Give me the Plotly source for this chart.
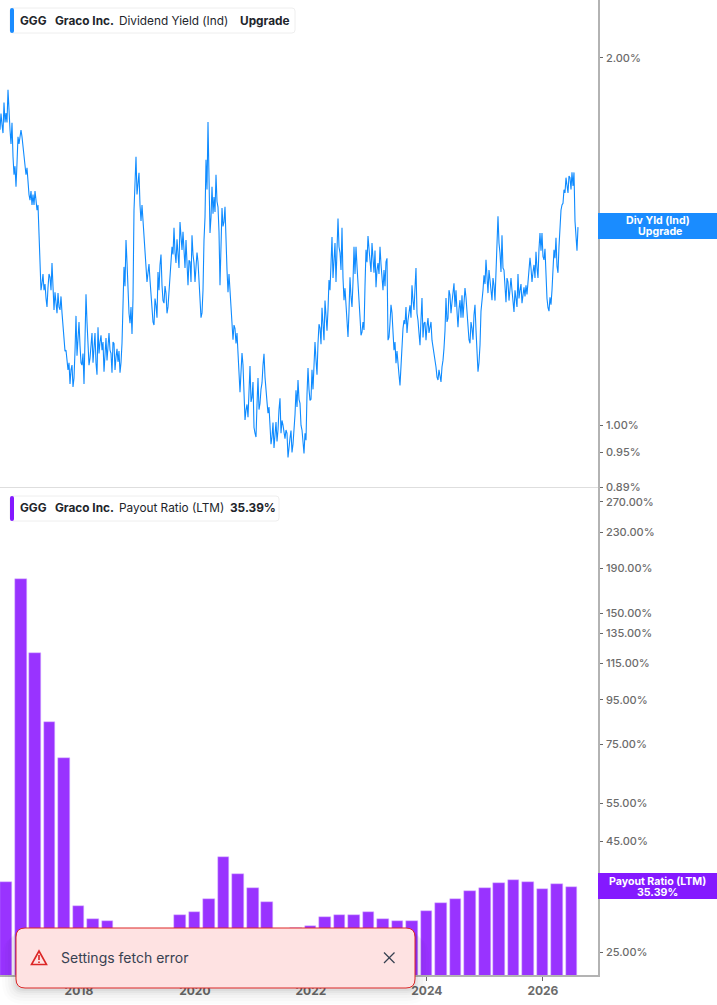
import pandas as pd
import plotly.graph_objects as go

W, H = 717, 1005

# Dividend yield (%); two interleaved passes over the dates
yield_start = "2016-08-22"
yield_end = "2026-08-10"
yield_pass_a = [
1.746,1.763,1.838,1.802,1.883,1.746,1.769,1.604,1.568,1.723,1.730,1.723,1.665,1.604,1.568,1.529,1.515,1.515,1.529,1.515,
1.333,1.307,1.290,1.271,1.297,1.322,1.358,1.243,1.266,1.283,1.243,1.236,1.179,1.152,1.110,1.081,1.120,1.093,1.229,1.181,
1.163,1.120,1.081,1.280,1.174,1.135,1.190,1.152,1.124,1.203,1.170,1.152,1.106,1.179,1.163,1.152,1.104,1.167,1.137,1.127,
1.104,1.167,1.348,1.418,1.273,1.212,1.188,1.501,1.659,1.583,1.515,1.515,1.437,1.353,1.333,1.315,1.243,1.208,1.254,1.335,
1.353,1.302,1.259,1.283,1.250,1.322,1.400,1.451,1.358,1.392,1.467,1.392,1.371,1.418,1.302,1.361,1.431,1.358,1.361,1.361,
1.273,1.236,1.418,1.650,1.772,1.437,1.568,1.538,1.604,1.509,1.302,1.506,1.467,1.392,1.285,1.290,1.214,1.208,1.167,1.146,
1.064,1.146,1.068,1.029,1.015,1.118,1.054,0.996,0.978,1.093,1.042,1.083,1.144,1.062,1.023,1.000,0.978,0.958,1.006,0.991,
1.052,1.009,0.985,0.991,0.941,0.976,0.950,0.985,1.068,1.089,1.042,0.991,0.948,0.972,1.114,1.048,1.110,1.137,1.131,1.167,
1.201,1.248,1.174,1.219,1.243,1.290,1.426,1.366,1.310,1.477,1.384,1.451,1.266,1.250,1.181,1.322,1.250,1.400,1.400,1.315,
1.226,1.192,1.197,1.392,1.429,1.366,1.410,1.333,1.297,1.358,1.400,1.327,1.340,1.361,1.174,1.212,1.236,1.152,1.124,1.131,
1.078,1.174,1.219,1.250,1.219,1.254,1.302,1.243,1.345,1.219,1.163,1.271,1.212,1.174,1.224,1.208,1.174,1.152,1.116,1.089,
1.099,1.116,1.156,1.271,1.224,1.278,1.261,1.307,1.290,1.203,1.266,1.278,1.254,1.273,1.203,1.167,1.201,1.231,1.197,1.106,
1.163,1.278,1.327,1.366,1.283,1.315,1.266,1.302,1.335,1.483,1.384,1.431,1.340,1.261,1.310,1.302,1.290,1.238,1.273,1.330,
1.290,1.259,1.297,1.302,1.310,1.371,1.310,1.353,1.387,1.320,1.437,1.437,1.366,1.315,1.248,1.273,1.290,1.392,1.424,1.333,
1.473,1.515,1.559,1.595,1.550,1.595,1.611,1.611,1.413,1.453,
]
yield_pass_b = [
1.800,1.735,1.770,1.770,1.790,1.700,1.660,1.630,1.640,1.700,1.745,1.690,1.620,1.625,1.545,1.555,1.545,1.555,1.500,1.445,
1.290,1.330,1.305,1.250,1.330,1.290,1.300,1.285,1.235,1.250,1.275,1.210,1.150,1.125,1.125,1.110,1.075,1.150,1.140,1.215,
1.125,1.145,1.215,1.215,1.120,1.175,1.125,1.190,1.100,1.145,1.185,1.170,1.140,1.130,1.190,1.145,1.170,1.110,1.155,1.150,
1.125,1.230,1.300,1.360,1.235,1.250,1.270,1.560,1.545,1.610,1.470,1.475,1.375,1.310,1.355,1.280,1.215,1.270,1.225,1.290,
1.380,1.265,1.300,1.235,1.290,1.375,1.380,1.385,1.420,1.345,1.410,1.440,1.345,1.350,1.365,1.310,1.380,1.310,1.385,1.310,
1.225,1.290,1.480,1.560,1.620,1.480,1.490,1.495,1.525,1.440,1.400,1.455,1.510,1.340,1.330,1.245,1.175,1.200,1.190,1.110,
1.105,1.120,1.010,1.040,1.070,1.045,1.085,0.985,1.040,1.030,1.070,1.120,1.095,1.045,1.035,0.965,1.005,0.985,0.970,1.030,
0.985,1.000,0.975,0.985,0.965,0.990,0.965,1.020,1.035,1.050,1.000,0.960,0.985,1.060,1.070,1.050,1.070,1.170,1.100,1.210,
1.165,1.200,1.265,1.195,1.315,1.350,1.320,1.410,1.400,1.400,1.340,1.320,1.295,1.205,1.240,1.275,1.310,1.330,1.350,1.270,
1.185,1.215,1.300,1.360,1.395,1.335,1.350,1.390,1.340,1.330,1.355,1.290,1.300,1.370,1.180,1.255,1.175,1.170,1.150,1.100,
1.130,1.200,1.210,1.190,1.245,1.225,1.265,1.295,1.235,1.190,1.220,1.180,1.215,1.205,1.190,1.215,1.160,1.135,1.095,1.110,
1.085,1.130,1.195,1.215,1.290,1.235,1.285,1.250,1.240,1.245,1.225,1.225,1.295,1.235,1.175,1.215,1.175,1.255,1.150,1.125,
1.240,1.290,1.305,1.330,1.340,1.280,1.320,1.265,1.430,1.410,1.335,1.345,1.300,1.320,1.265,1.320,1.270,1.290,1.250,1.270,
1.305,1.280,1.275,1.280,1.330,1.345,1.335,1.320,1.345,1.395,1.390,1.375,1.395,1.270,1.240,1.255,1.330,1.370,1.350,1.400,
1.500,1.520,1.550,1.560,1.600,1.560,1.570,1.470,1.390,
]

# Payout ratio (LTM, %), one bar per quarter
payout_quarter_ends = [
"2016-09-30","2016-12-31","2017-03-31","2017-06-30","2017-09-30","2017-12-31","2018-03-31","2018-06-30",
"2018-09-30","2018-12-31","2019-03-31","2019-06-30","2019-09-30","2019-12-31","2020-03-31","2020-06-30",
"2020-09-30","2020-12-31","2021-03-31","2021-06-30","2021-09-30","2021-12-31","2022-03-31","2022-06-30",
"2022-09-30","2022-12-31","2023-03-31","2023-06-30","2023-09-30","2023-12-31","2024-03-31","2024-06-30",
"2024-09-30","2024-12-31","2025-03-31","2025-06-30","2025-09-30","2025-12-31","2026-03-31","2026-06-30",
]
payout_values = [
36.2,179.9,121.7,84.6,69.9,31.9,29.8,29.6,
27.4,27.4,27.4,27.4,30.5,30.9,33.1,41.3,
37.9,35.2,32.7,28.1,28.4,28.8,30.1,30.4,
30.4,30.9,29.8,29.6,29.5,31.2,32.4,33.1,
34.5,35.2,36.0,36.7,36.2,35.0,35.8,35.39,
]

yield_ticks = [2.00, 1.00, 0.95, 0.89]
payout_ticks = [270, 230, 190, 150, 135, 115, 95, 75, 55, 45, 35, 25]
year_ticks = ["2018-01-01", "2020-01-01", "2022-01-01", "2024-01-01", "2026-01-01"]
year_labels = ["2018", "2020", "2022", "2024", "2026"]

BLUE = "#0f8bff"
PURPLE = "#9933ff"
BADGE_BLUE = "#1a8cff"
BADGE_PURPLE = "#8419ff"
AXIS = "#b3b3b3"
TICKTXT = "#6b6b6b"
FONT = "Inter"

def px(x): return x / W
def py(y): return 1 - y / H

def rrect(x0, y0, x1, y1, r):
    X0, X1, Y0, Y1 = px(x0), px(x1), py(y0), py(y1)
    rx, ry = r / W, r / H
    return (f"M {X0+rx},{Y0} L {X1-rx},{Y0} Q {X1},{Y0} {X1},{Y0-ry} "
            f"L {X1},{Y1+ry} Q {X1},{Y1} {X1-rx},{Y1} L {X0+rx},{Y1} "
            f"Q {X0},{Y1} {X0},{Y1+ry} L {X0},{Y0-ry} Q {X0},{Y0} {X0+rx},{Y0} Z")

def box(x0, y0, x1, y1, r, fill, line=None, lw=1):
    return dict(type="path", xref="paper", yref="paper", path=rrect(x0, y0, x1, y1, r),
                fillcolor=fill, line=dict(color=line or "rgba(0,0,0,0)", width=lw if line else 0),
                layer="above")

def seg(x0, y0, x1, y1, color, lw=1.3):
    return dict(type="line", xref="paper", yref="paper", x0=px(x0), y0=py(y0), x1=px(x1), y1=py(y1),
                line=dict(color=color, width=lw), layer="above")

def label(x, y, text, size=11.8, color="#22252b", weight=400, anchor="left"):
    return dict(xref="paper", yref="paper", x=px(x), y=py(y), text=text, showarrow=False,
                xanchor=anchor, yanchor="middle", borderpad=0,
                font=dict(family=FONT, size=size, color=color, weight=weight))

yield_values = [None] * (len(yield_pass_a) + len(yield_pass_b))
yield_values[0::2] = yield_pass_a
yield_values[1::2] = yield_pass_b

fig = go.Figure()
fig.add_trace(go.Scatter(
    x=pd.date_range(yield_start, yield_end, periods=len(yield_values)), y=yield_values,
    mode="lines", line=dict(color=BLUE, width=1.1), xaxis="x", yaxis="y", hoverinfo="skip"))
fig.add_trace(go.Bar(
    x=pd.to_datetime(payout_quarter_ends), y=payout_values, width=72 * 86400000,
    marker=dict(color=PURPLE, line=dict(color="#dcbcff", width=0.5)), xaxis="x2", yaxis="y2", hoverinfo="skip"))

x_range = ["2016-08-22", "2026-12-14"]
fig.update_layout(
    width=W, height=H, margin=dict(l=0, r=0, t=0, b=0, autoexpand=False), showlegend=False,
    paper_bgcolor="white", plot_bgcolor="white", font=dict(family=FONT),
    xaxis=dict(domain=[0, px(598)], range=x_range, type="date", anchor="y", showgrid=False,
               showticklabels=False, ticks="", showline=True, linecolor="#dedede", linewidth=1, zeroline=False),
    yaxis=dict(domain=[py(487), 1], type="log", range=[-0.0506, 0.3483], side="right", anchor="x",
               tickvals=yield_ticks, ticktext=[f"{v:.2f}%" for v in yield_ticks],
               tickfont=dict(family=FONT, size=11, color=TICKTXT, weight=500), ticks="outside", ticklen=3,
               ticklabelstandoff=1,
               tickcolor="#666666", showgrid=False, zeroline=False, showline=True, linecolor=AXIS, linewidth=1.5),
    xaxis2=dict(domain=[0, px(598)], range=x_range, type="date", anchor="y2", showgrid=False,
                tickvals=year_ticks, ticktext=year_labels, ticks="outside", ticklen=4, tickcolor="#666666",
                tickfont=dict(family=FONT, size=12, color=TICKTXT, weight=700),
                showline=True, linecolor=AXIS, linewidth=1.5, zeroline=False),
    yaxis2=dict(domain=[py(975), py(487)], type="log", range=[1.3463, 2.4655], side="right", anchor="x2",
                tickvals=payout_ticks, ticktext=[f"{v:.2f}%" for v in payout_ticks],
                tickfont=dict(family=FONT, size=11, color=TICKTXT, weight=500), ticks="outside", ticklen=3,
                ticklabelstandoff=1,
                tickcolor="#666666", showgrid=False, zeroline=False, showline=True, linecolor=AXIS, linewidth=1.5),
    bargap=0,
)

shapes = [
    # legend chips
    box(10, 8, 295, 33, 3, "white", "#eeeeee"),
    box(10, 8, 14, 33, 2, BADGE_BLUE),
    box(10, 496, 279, 521, 3, "white", "#eeeeee"),
    box(10, 496, 14, 521, 2, BADGE_PURPLE),
    # price badges
    dict(type="rect", xref="paper", yref="paper", x0=px(598), x1=1, y0=py(239), y1=py(213),
         fillcolor=BADGE_BLUE, line=dict(width=0), layer="above"),
    dict(type="rect", xref="paper", yref="paper", x0=px(598), x1=1, y0=py(899), y1=py(873),
         fillcolor=BADGE_PURPLE, line=dict(width=0), layer="above"),
]
# toast shadow
for grow, alpha in [(14, 0.012), (11, 0.015), (8, 0.02), (5, 0.025), (3, 0.03), (1, 0.04)]:
    shapes.append(box(16 - grow, 928 + grow / 2, 415 + grow, 988 + grow + 2, 8 + grow, f"rgba(0,0,0,{alpha})"))
shapes += [
    box(16, 928, 415, 988, 9, "#fee2e2", "#dc2626", 1),
    # warning icon
    dict(type="path", xref="paper", yref="paper", layer="above", fillcolor="rgba(0,0,0,0)",
         line=dict(color="#dc2626", width=1.6),
         path=f"M {px(39)},{py(951)} L {px(46.5)},{py(964.5)} L {px(31.5)},{py(964.5)} Z"),
    seg(39, 955, 39, 960, "#dc2626", 1.6),
    seg(39, 961.5, 39, 963, "#dc2626", 1.6),
    # close icon
    seg(384, 952.5, 394.5, 963, "#374151"),
    seg(394.5, 952.5, 384, 963, "#374151"),
]
fig.update_layout(shapes=shapes)

fig.update_layout(annotations=[
    label(19, 20.5, "GGG", weight=700),
    label(54, 20.5, "Graco Inc.", weight=700),
    label(118, 20.5, "Dividend Yield (Ind)", weight=400),
    label(239, 20.5, "Upgrade", weight=700),
    label(19, 508.5, "GGG", weight=700),
    label(54, 508.5, "Graco Inc.", weight=700),
    label(118, 508.5, "Payout Ratio (LTM)", weight=400),
    label(229, 508.5, "35.39%", weight=700),
    label(658, 220, "Div Yld (Ind)", size=10.6, color="white", weight=700, anchor="center"),
    label(660, 231, "Upgrade", size=10.6, color="white", weight=700, anchor="center"),
    label(657.5, 881, "Payout Ratio (LTM)", size=10.6, color="white", weight=700, anchor="center"),
    label(657.5, 892, "35.39%", size=10.6, color="white", weight=700, anchor="center"),
    label(60, 957, "Settings fetch error", size=14, color="#374151", weight=400),
])

fig.write_html("out.html", config=dict(displayModeBar=False),
               post_script="document.body.style.margin='0';document.documentElement.style.overflow='hidden';")
